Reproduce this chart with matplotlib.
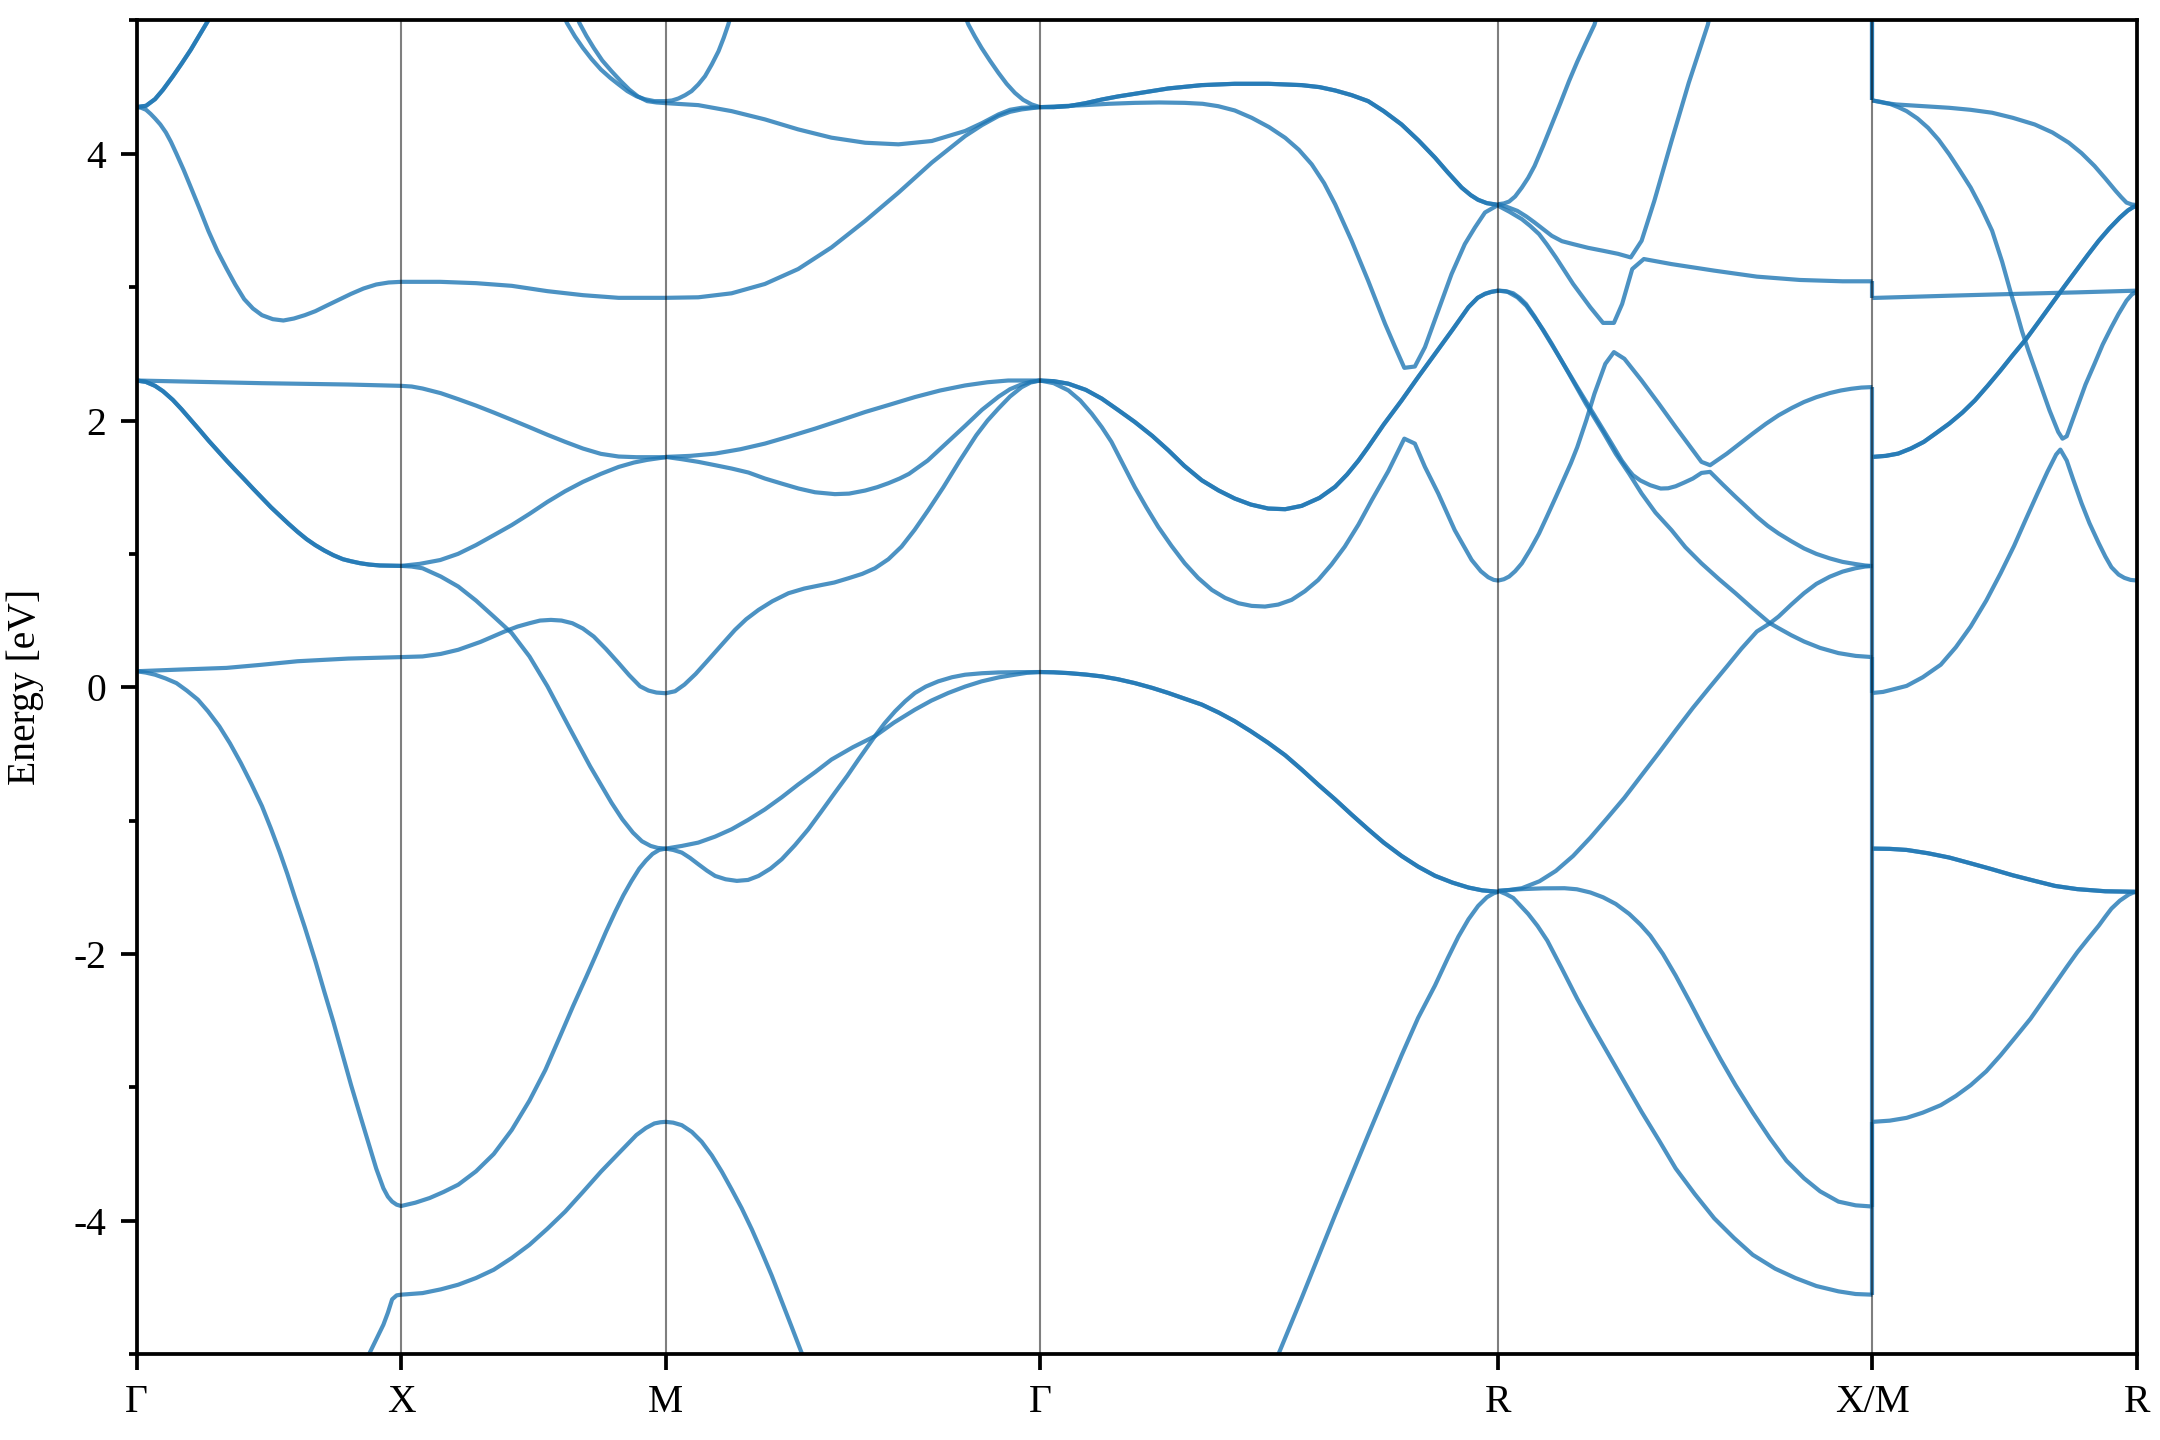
import matplotlib
matplotlib.use('Agg')
import matplotlib.pyplot as plt
from matplotlib.ticker import MultipleLocator
import numpy as np

plt.rcParams['font.family'] = ['Liberation Serif', 'DejaVu Serif']
plt.rcParams['font.size'] = 9.5
plt.rcParams['axes.unicode_minus'] = False

# path: segment lengths (units of 2pi/a) and node labels
SEG_LEN = [0.5, 0.5, np.sqrt(2) / 2, np.sqrt(3) / 2, np.sqrt(2) / 2, 0.5]
NODE_LABELS = ['Γ', 'X', 'M', 'Γ', 'R', 'X/M', 'R']

# curves: u = segment index + fraction along segment, E in eV
# --- Γ-X / X-M / M-Γ ---
A_u = [0, .036, .07, .10, .137, .17, .205, .235, .265, .30]
A_E = [4.35, 4.36, 4.41, 4.48, 4.58, 4.675, 4.78, 4.88, 4.98, 5.1]
B_u = [0, .018, .036, .053, .07, .09, .111, .13, .151, .178, .205, .238, .272, .306, .34, .373, .407,
       .44, .474, .515, .555, .595, .636, .676, .717, .764, .811, .858, .906, .953, 1,
       1.148, 1.283, 1.418, 1.553, 1.687, 1.822, 2,
       2.087, 2.176, 2.265, 2.354, 2.443, 2.533, 2.622, 2.711, 2.8, 2.845, 2.889, 2.92, 2.951, 3]
B_E = [4.35, 4.345, 4.33, 4.30, 4.265, 4.22, 4.16, 4.09, 4.0, 3.88, 3.75, 3.59, 3.42, 3.27, 3.14, 3.02,
       2.91, 2.84, 2.79, 2.76, 2.75, 2.765, 2.79, 2.82, 2.86, 2.905, 2.95, 2.99, 3.02, 3.035, 3.04,
       3.04, 3.03, 3.01, 2.97, 2.94, 2.92, 2.92,
       2.924, 2.954, 3.024, 3.136, 3.298, 3.497, 3.709, 3.934, 4.133, 4.215, 4.283, 4.315, 4.333, 4.35]
C_u = [0, .474, .8, 1, 1.04, 1.081, 1.15, 1.216, 1.283, 1.35, 1.418, 1.485, 1.553, 1.62, 1.687, 1.755,
       1.822, 1.889, 2]
C_E = [2.30, 2.28, 2.27, 2.26, 2.255, 2.24, 2.205, 2.16, 2.112, 2.06, 2.005, 1.95, 1.893, 1.84, 1.79,
       1.75, 1.73, 1.725, 1.725]
D_u = [0, .035, .07, .10, .137, .17, .205, .24, .272, .306, .34, .373, .407, .44, .474, .508, .54, .575,
       .609, .643, .676, .71, .744, .78, .81, .845, .879, .92, 1]
D_E = [2.30, 2.29, 2.26, 2.22, 2.155, 2.085, 2.005, 1.925, 1.85, 1.775, 1.70, 1.63, 1.56, 1.49, 1.42,
       1.35, 1.29, 1.225, 1.165, 1.11, 1.065, 1.025, 0.99, 0.96, 0.945, 0.93, 0.92, 0.913, 0.91]
E_u = [0, .17, .34, .47, .609, .80, 1, 1.081, 1.15, 1.216, 1.30, 1.391, 1.44, 1.485, 1.525, 1.566, 1.606,
       1.647, 1.687, 1.728, 1.775, 1.822, 1.862, 1.903, 1.935, 1.965, 2,
       2.025, 2.05, 2.08, 2.114, 2.15, 2.185, 2.215, 2.248, 2.285, 2.328, 2.37, 2.417, 2.45, 2.488,
       2.525, 2.559, 2.595, 2.63, 2.665, 2.702, 2.742, 2.786, 2.83, 2.86, 2.889, 2.92, 2.951, 2.975, 3]
E_E = [0.12, 0.133, 0.145, 0.168, 0.195, 0.215, 0.226, 0.231, 0.25, 0.281, 0.34, 0.418, 0.455, 0.48,
       0.50, 0.505, 0.50, 0.48, 0.44, 0.38, 0.285, 0.181, 0.09, 0.007, -0.025, -0.04, -0.045,
       -0.03, 0.02, 0.10, 0.206, 0.32, 0.43, 0.51, 0.58, 0.645, 0.705, 0.74, 0.767, 0.785, 0.817,
       0.85, 0.892, 0.96, 1.054, 1.18, 1.33, 1.50, 1.70, 1.89, 2.0, 2.09, 2.18, 2.25, 2.285, 2.30]
F_u = [0, .035, .07, .11, .151, .19, .232, .27, .313, .353, .394, .433, .474, .508, .542, .57, .596,
       .636, .677, .71, .744, .778, .811, .845, .879, .906, .933, .95, .966, .983, 1,
       1.054, 1.108, 1.16, 1.216, 1.283, 1.35, 1.418, 1.485, 1.545, 1.60, 1.65, 1.70, 1.74, 1.775,
       1.81, 1.84, 1.87, 1.90, 1.925, 1.95, 1.975, 2]
F_E = [0.12, 0.11, 0.094, 0.066, 0.031, -0.025, -0.093, -0.18, -0.293, -0.42, -0.567, -0.72, -0.891,
       -1.06, -1.24, -1.40, -1.56, -1.80, -2.06, -2.285, -2.51, -2.75, -2.984, -3.21, -3.433, -3.61,
       -3.757, -3.82, -3.857, -3.88, -3.89,
       -3.865, -3.83, -3.785, -3.73, -3.63, -3.50, -3.32, -3.10, -2.87, -2.62, -2.39, -2.17, -1.99,
       -1.83, -1.68, -1.56, -1.455, -1.36, -1.30, -1.25, -1.22, -1.21]
G_u = [.86, .879, .906, .933, .95, .966, .983, 1, 1.081, 1.15, 1.216, 1.283, 1.35, 1.418, 1.485, 1.553,
       1.62, 1.687, 1.755, 1.822, 1.889, 1.925, 1.957, 1.98, 2,
       2.02, 2.043, 2.07, 2.096, 2.123, 2.15, 2.176, 2.203, 2.23, 2.256, 2.283, 2.31, 2.337, 2.363, 2.38]
G_E = [-5.1, -5.0, -4.89, -4.78, -4.69, -4.59, -4.56, -4.555, -4.543, -4.515, -4.48, -4.43, -4.368,
       -4.28, -4.181, -4.06, -3.932, -3.785, -3.633, -3.495, -3.358, -3.305, -3.271, -3.262, -3.259,
       -3.265, -3.284, -3.335, -3.408, -3.51, -3.633, -3.765, -3.907, -4.065, -4.231, -4.41, -4.605,
       -4.80, -4.99, -5.1]
H_u = [1, 1.04, 1.081, 1.15, 1.216, 1.283, 1.35, 1.418, 1.485, 1.553, 1.633, 1.714, 1.795, 1.836,
       1.876, 1.91, 1.943, 1.97, 2]
H_E = [0.91, 0.905, 0.892, 0.83, 0.755, 0.65, 0.53, 0.406, 0.231, 0.007, -0.293, -0.592, -0.866,
       -0.99, -1.09, -1.155, -1.19, -1.205, -1.21]
I_u = [1, 1.07, 1.148, 1.215, 1.283, 1.35, 1.418, 1.485, 1.553, 1.62, 1.687, 1.755, 1.822, 1.88,
       1.93, 2]
I_E = [0.91, 0.925, 0.954, 1.0, 1.066, 1.14, 1.216, 1.30, 1.39, 1.47, 1.54, 1.60, 1.652, 1.685,
       1.705, 1.725]
J_u = [1.60, 1.627, 1.657, 1.687, 1.72, 1.755, 1.79, 1.822, 1.855, 1.889, 1.92, 1.957, 2,
       2.017, 2.034, 2.052, 2.069, 2.087, 2.105, 2.123, 2.141, 2.155, 2.167, 2.18]
J_E = [5.1, 4.98, 4.88, 4.794, 4.71, 4.632, 4.57, 4.52, 4.47, 4.432, 4.41, 4.395, 4.395,
       4.40, 4.415, 4.44, 4.47, 4.52, 4.582, 4.67, 4.769, 4.87, 4.968, 5.1]
K_u = [1.65, 1.674, 1.70, 1.728, 1.76, 1.795, 1.83, 1.862, 1.895, 1.93, 1.965, 2,
       2.087, 2.176, 2.265, 2.354, 2.443, 2.533, 2.622, 2.711, 2.8, 2.845, 2.889, 2.92, 2.951, 3]
K_E = [5.1, 4.98, 4.885, 4.794, 4.70, 4.62, 4.545, 4.482, 4.43, 4.395, 4.385, 4.38,
       4.365, 4.32, 4.258, 4.183, 4.121, 4.083, 4.071, 4.096, 4.171, 4.23, 4.295, 4.33, 4.345, 4.35]
N_u = [2.79, 2.809, 2.826, 2.844, 2.866, 2.889, 2.911, 2.933, 2.955, 2.978, 3]
N_E = [5.1, 4.968, 4.88, 4.794, 4.70, 4.607, 4.525, 4.457, 4.405, 4.37, 4.35]
P_u = [2, 2.066, 2.132, 2.2, 2.265, 2.33, 2.399, 2.465, 2.533, 2.6, 2.666, 2.733, 2.8, 2.86, 2.915, 3]
P_E = [1.727, 1.735, 1.752, 1.785, 1.827, 1.88, 1.939, 2.0, 2.064, 2.12, 2.176, 2.225, 2.263, 2.287,
       2.30, 2.30]
Q_u = [2, 2.043, 2.087, 2.132, 2.176, 2.221, 2.265, 2.31, 2.355, 2.399, 2.452, 2.49, 2.533, 2.565,
       2.595, 2.625, 2.65, 2.70, 2.75, 2.80, 2.845, 2.89, 2.92, 2.95, 2.975, 3]
Q_E = [1.727, 1.71, 1.69, 1.665, 1.64, 1.61, 1.565, 1.527, 1.49, 1.462, 1.448, 1.452, 1.475, 1.50,
       1.53, 1.565, 1.60, 1.70, 1.83, 1.96, 2.08, 2.18, 2.235, 2.27, 2.29, 2.30]
S_u = [2, 2.02, 2.043, 2.065, 2.087, 2.11, 2.132, 2.16, 2.19, 2.22, 2.248, 2.28, 2.31, 2.345, 2.381,
       2.415, 2.452, 2.485, 2.515, 2.559, 2.585, 2.613, 2.64, 2.666, 2.695, 2.728, 2.765, 2.8, 2.845,
       2.889, 2.94, 3]
S_E = [-1.21, -1.22, -1.24, -1.28, -1.327, -1.375, -1.415, -1.44, -1.452, -1.445, -1.415, -1.36,
       -1.29, -1.185, -1.065, -0.935, -0.791, -0.665, -0.542, -0.367, -0.27, -0.18, -0.105, -0.043,
       0.005, 0.044, 0.075, 0.094, 0.105, 0.111, 0.113, 0.114]
T_u = [2, 2.043, 2.087, 2.132, 2.176, 2.22, 2.265, 2.31, 2.354, 2.4, 2.443, 2.5, 2.559, 2.61, 2.666,
       2.71, 2.755, 2.80, 2.844, 2.89, 2.933, 2.965, 3]
T_E = [-1.21, -1.19, -1.165, -1.12, -1.065, -0.995, -0.916, -0.825, -0.729, -0.635, -0.542, -0.45,
       -0.367, -0.265, -0.168, -0.10, -0.043, 0.005, 0.044, 0.074, 0.094, 0.108, 0.114]
# --- Γ-R ---
V_u = [3, 3.03, 3.062, 3.1, 3.135, 3.17, 3.207, 3.28, 3.353, 3.425, 3.498, 3.571, 3.61, 3.644, 3.68,
       3.716, 3.75, 3.789, 3.826, 3.862, 3.89, 3.92, 3.94, 3.956, 3.975, 4]
V_E = [4.35, 4.35, 4.357, 4.38, 4.407, 4.43, 4.45, 4.49, 4.515, 4.525, 4.525, 4.515, 4.50, 4.475,
       4.44, 4.395, 4.32, 4.22, 4.10, 3.971, 3.86, 3.747, 3.69, 3.655, 3.63, 3.617]
W_u = [3, 3.05, 3.098, 3.15, 3.207, 3.26, 3.316, 3.355, 3.389, 3.425, 3.462, 3.50, 3.535, 3.565, 3.593,
       3.62, 3.644, 3.68, 3.716, 3.753, 3.775, 3.795, 3.818, 3.84, 3.869, 3.898, 3.927, 3.949, 3.971, 4]
W_E = [4.35, 4.358, 4.365, 4.375, 4.382, 4.385, 4.382, 4.375, 4.357, 4.325, 4.27, 4.20, 4.12, 4.03,
       3.921, 3.78, 3.622, 3.348, 3.049, 2.725, 2.55, 2.395, 2.405, 2.55, 2.824, 3.098, 3.323, 3.447,
       3.56, 3.617]
X_u = [3, 3.03, 3.062, 3.10, 3.135, 3.17, 3.207, 3.245, 3.28, 3.315, 3.353, 3.39, 3.425, 3.46, 3.498,
       3.535, 3.571, 3.61, 3.644, 3.67, 3.695, 3.716, 3.75, 3.789, 3.825, 3.862, 3.90, 3.935, 3.955,
       3.971, 3.985, 4]
X_E = [2.30, 2.295, 2.276, 2.23, 2.164, 2.08, 1.989, 1.885, 1.777, 1.66, 1.552, 1.475, 1.415, 1.37,
       1.34, 1.335, 1.36, 1.42, 1.503, 1.595, 1.70, 1.80, 1.97, 2.15, 2.325, 2.50, 2.68, 2.85, 2.92,
       2.95, 2.965, 2.974]
Y_u = [3, 3.03, 3.062, 3.088, 3.113, 3.135, 3.156, 3.18, 3.207, 3.232, 3.258, 3.287, 3.316, 3.345,
       3.375, 3.404, 3.433, 3.462, 3.491, 3.52, 3.549, 3.578, 3.607, 3.636, 3.665, 3.695, 3.724, 3.76,
       3.795, 3.818, 3.84, 3.869, 3.905, 3.942, 3.962, 3.978, 3.99, 4,
       4.015, 4.029, 4.045, 4.063, 4.085, 4.109, 4.13, 4.154, 4.175, 4.194, 4.211, 4.235, 4.257,
       4.286, 4.309, 4.337, 4.383, 4.429, 4.474, 4.52, 4.543, 4.566, 4.611, 4.68, 4.715, 4.749,
       4.785, 4.817, 4.85, 4.886, 4.915, 4.943, 4.97, 5]
Y_E = [2.30, 2.28, 2.226, 2.15, 2.051, 1.95, 1.84, 1.68, 1.50, 1.35, 1.203, 1.06, 0.929, 0.82, 0.73,
       0.67, 0.63, 0.61, 0.605, 0.62, 0.655, 0.72, 0.804, 0.92, 1.054, 1.22, 1.403, 1.62, 1.864,
       1.827, 1.652, 1.453, 1.178, 0.954, 0.87, 0.825, 0.805, 0.80,
       0.81, 0.83, 0.87, 0.929, 1.03, 1.153, 1.28, 1.428, 1.56, 1.68, 1.80, 2.0, 2.201,
       2.425, 2.513, 2.463, 2.30, 2.126, 1.951, 1.777, 1.69, 1.665, 1.752, 1.902, 1.975, 2.039,
       2.095, 2.139, 2.175, 2.206, 2.225, 2.238, 2.247, 2.251]
Z_u = [3, 3.03, 3.062, 3.1, 3.135, 3.17, 3.207, 3.245, 3.28, 3.315, 3.353, 3.39, 3.425, 3.46, 3.498,
       3.535, 3.571, 3.607, 3.644, 3.68, 3.716, 3.75, 3.789, 3.825, 3.862, 3.9, 3.935, 3.965, 4]
Z_E = [0.114, 0.112, 0.106, 0.095, 0.081, 0.06, 0.031, -0.005, -0.043, -0.085, -0.13, -0.19, -0.255,
       -0.33, -0.417, -0.51, -0.617, -0.73, -0.841, -0.955, -1.065, -1.165, -1.265, -1.345, -1.414,
       -1.465, -1.502, -1.523, -1.534]
AA_u = [3.50, 3.52, 3.571, 3.644, 3.716, 3.789, 3.825, 3.862, 3.89, 3.913, 3.935, 3.956, 3.975, 3.99, 4]
AA_E = [-5.1, -5.004, -4.58, -3.957, -3.358, -2.76, -2.48, -2.236, -2.03, -1.87, -1.74, -1.64,
        -1.575, -1.545, -1.534]
# --- R-X ---
AB_u = [4, 4.015, 4.029, 4.045, 4.063, 4.08, 4.097, 4.12, 4.143, 4.166, 4.189, 4.211, 4.234, 4.257, 4.27]
AB_E = [3.622, 3.628, 3.642, 3.68, 3.747, 3.82, 3.909, 4.06, 4.22, 4.38, 4.545, 4.69, 4.831, 4.968, 5.1]
AC_u = [4, 4.025, 4.051, 4.075, 4.097, 4.12, 4.143, 4.17, 4.2, 4.24, 4.28, 4.32, 4.354, 4.383, 4.417,
        4.463, 4.509, 4.56, 4.57]
AC_E = [3.622, 3.60, 3.572, 3.53, 3.485, 3.435, 3.385, 3.345, 3.323, 3.295, 3.273, 3.25, 3.223, 3.348,
        3.647, 4.096, 4.532, 4.968, 5.1]
AD_u = [4, 4.03, 4.063, 4.085, 4.109, 4.13, 4.154, 4.2, 4.246, 4.28, 4.309, 4.331, 4.358, 4.389, 4.463,
        4.577, 4.691, 4.806, 4.92, 5]
AD_E = [3.61, 3.565, 3.51, 3.46, 3.398, 3.32, 3.223, 3.024, 2.849, 2.732, 2.732, 2.874, 3.136, 3.211,
        3.173, 3.124, 3.079, 3.054, 3.044, 3.044]
AE_u = [4, 4.02, 4.04, 4.057, 4.074, 4.097, 4.12, 4.166, 4.211, 4.257, 4.303, 4.33, 4.349, 4.36, 4.38,
        4.406, 4.434, 4.454, 4.474, 4.497, 4.52, 4.543, 4.566, 4.60, 4.634, 4.66, 4.691, 4.72, 4.749,
        4.783, 4.817, 4.85, 4.886, 4.92, 4.954, 4.98, 5]
AE_E = [2.974, 2.97, 2.954, 2.92, 2.874, 2.78, 2.675, 2.463, 2.251, 2.039, 1.827, 1.70, 1.627, 1.59,
        1.55, 1.515, 1.49, 1.492, 1.507, 1.535, 1.565, 1.607, 1.615, 1.52, 1.428, 1.36, 1.278, 1.21,
        1.153, 1.095, 1.041, 1.0, 0.966, 0.94, 0.924, 0.913, 0.909]
AF_u = [4, 4.025, 4.051, 4.075, 4.097, 4.12, 4.143, 4.189, 4.234, 4.28, 4.314, 4.35, 4.383, 4.42, 4.463,
        4.50, 4.543, 4.59, 4.634, 4.68, 4.726, 4.749, 4.783, 4.817, 4.86, 4.909, 4.955, 5]
AF_E = [2.974, 2.965, 2.924, 2.86, 2.774, 2.68, 2.575, 2.35, 2.126, 1.914, 1.75, 1.60, 1.453, 1.31,
        1.178, 1.05, 0.929, 0.81, 0.705, 0.59, 0.48, 0.443, 0.39, 0.343, 0.295, 0.256, 0.235, 0.226]
AH_u = [4, 4.03, 4.063, 4.11, 4.154, 4.2, 4.246, 4.29, 4.337, 4.383, 4.429, 4.475, 4.52, 4.565, 4.611,
        4.65, 4.691, 4.726, 4.749, 4.783, 4.817, 4.85, 4.886, 4.92, 4.954, 4.98, 5]
AH_E = [-1.527, -1.52, -1.507, -1.455, -1.377, -1.265, -1.128, -0.985, -0.829, -0.66, -0.492, -0.32,
        -0.155, 0.0, 0.156, 0.29, 0.418, 0.48, 0.53, 0.62, 0.705, 0.775, 0.829, 0.867, 0.892, 0.905,
        0.909]
AI_u = [4, 4.063, 4.12, 4.177, 4.21, 4.246, 4.28, 4.314, 4.35, 4.38, 4.406, 4.44, 4.474, 4.514, 4.554,
        4.594, 4.634, 4.68, 4.726, 4.77, 4.817, 4.86, 4.909, 4.955, 5]
AI_E = [-1.527, -1.514, -1.508, -1.507, -1.515, -1.539, -1.575, -1.625, -1.70, -1.78, -1.862, -2.0,
        -2.162, -2.37, -2.585, -2.79, -2.984, -3.19, -3.383, -3.55, -3.682, -3.78, -3.857, -3.885,
        -3.894]
AJ_u = [4, 4.02, 4.04, 4.06, 4.08, 4.105, 4.131, 4.17, 4.211, 4.25, 4.291, 4.337, 4.383, 4.43, 4.474,
        4.525, 4.577, 4.63, 4.68, 4.74, 4.794, 4.85, 4.909, 4.955, 5]
AJ_E = [-1.527, -1.55, -1.58, -1.64, -1.70, -1.79, -1.90, -2.11, -2.336, -2.535, -2.735, -2.96, -3.184,
        -3.40, -3.608, -3.80, -3.982, -4.13, -4.256, -4.36, -4.43, -4.49, -4.53, -4.55, -4.555]
# --- M-R ---
AK_u = [5, 5.025, 5.05, 5.09, 5.129, 5.21, 5.29, 5.37, 5.452, 5.53, 5.613, 5.68, 5.742, 5.79, 5.839,
        5.88, 5.919, 5.94, 5.96, 5.98, 6]
AK_E = [4.40, 4.39, 4.38, 4.37, 4.365, 4.355, 4.345, 4.33, 4.308, 4.27, 4.22, 4.16, 4.083, 4.005,
        3.909, 3.815, 3.722, 3.675, 3.634, 3.62, 3.615]
AL_u = [5, 5.03, 5.065, 5.097, 5.129, 5.17, 5.21, 5.25, 5.29, 5.33, 5.371, 5.41, 5.452, 5.49, 5.524,
        5.545, 5.565, 5.589, 5.629, 5.669, 5.702, 5.718, 5.734, 5.774, 5.805, 5.839, 5.87, 5.903, 5.93,
        5.96, 5.98, 6]
AL_E = [4.40, 4.39, 4.375, 4.35, 4.32, 4.265, 4.195, 4.105, 3.996, 3.875, 3.747, 3.60, 3.423, 3.19,
        2.949, 2.81, 2.67, 2.525, 2.30, 2.076, 1.914, 1.864, 1.882, 2.101, 2.27, 2.425, 2.57, 2.70,
        2.80, 2.899, 2.945, 2.969]
AM_u = [5, 5.29, 5.532, 5.774, 6]
AM_E = [2.919, 2.936, 2.949, 2.961, 2.974]
AN_u = [5, 5.05, 5.097, 5.145, 5.194, 5.24, 5.29, 5.34, 5.387, 5.435, 5.484, 5.53, 5.581, 5.63, 5.677,
        5.725, 5.774, 5.815, 5.855, 5.895, 5.935, 5.965, 5.985, 6]
AN_E = [1.727, 1.735, 1.752, 1.79, 1.84, 1.905, 1.977, 2.06, 2.151, 2.26, 2.376, 2.49, 2.612, 2.745,
        2.874, 3.005, 3.136, 3.245, 3.348, 3.44, 3.522, 3.575, 3.60, 3.61]
AO_u = [5, 5.04, 5.08, 5.129, 5.19, 5.258, 5.315, 5.371, 5.43, 5.484, 5.535, 5.581, 5.625, 5.661,
        5.694, 5.71, 5.734, 5.758, 5.79, 5.82, 5.855, 5.88, 5.903, 5.93, 5.952, 5.975, 6]
AO_E = [-0.043, -0.035, -0.015, 0.01, 0.075, 0.169, 0.30, 0.455, 0.65, 0.854, 1.06, 1.266, 1.46,
        1.615, 1.745, 1.782, 1.70, 1.56, 1.38, 1.23, 1.08, 0.98, 0.90, 0.845, 0.82, 0.805, 0.80]
AP_u = [5, 5.065, 5.129, 5.21, 5.29, 5.37, 5.452, 5.53, 5.613, 5.69, 5.774, 5.88, 6]
AP_E = [-1.21, -1.212, -1.22, -1.245, -1.277, -1.32, -1.365, -1.41, -1.452, -1.49, -1.514, -1.53,
        -1.534]
AQ_u = [5, 5.065, 5.129, 5.19, 5.258, 5.315, 5.371, 5.43, 5.484, 5.54, 5.597, 5.645, 5.694, 5.735,
        5.774, 5.815, 5.855, 5.88, 5.903, 5.935, 5.968, 5.985, 6]
AQ_E = [-3.259, -3.25, -3.229, -3.19, -3.134, -3.065, -2.984, -2.88, -2.76, -2.625, -2.486, -2.35,
        -2.212, -2.095, -1.987, -1.885, -1.788, -1.72, -1.66, -1.60, -1.555, -1.54, -1.534]

# band energies either side of the X|M break (same band index)
JUMP_X = [5.2, 5.2, 3.044, 2.251, 0.909, 0.909, 0.226, -3.894, -4.555]
JUMP_M = [4.40, 4.40, 2.919, 1.727, 1.727, -0.043, -1.21, -1.21, -3.259]

# (u, E, degeneracy)
CURVES = [(A_u, A_E, 2), (B_u, B_E, 1), (C_u, C_E, 1), (D_u, D_E, 2), (E_u, E_E, 1),
          (F_u, F_E, 1), (G_u, G_E, 1), (H_u, H_E, 1), (I_u, I_E, 1), (J_u, J_E, 1),
          (K_u, K_E, 1), (N_u, N_E, 1), (P_u, P_E, 1), (Q_u, Q_E, 1), (S_u, S_E, 1),
          (T_u, T_E, 1), (V_u, V_E, 2), (W_u, W_E, 1), (X_u, X_E, 2), (Y_u, Y_E, 1),
          (Z_u, Z_E, 2), (AA_u, AA_E, 1), (AB_u, AB_E, 1), (AC_u, AC_E, 1), (AD_u, AD_E, 1),
          (AE_u, AE_E, 1), (AF_u, AF_E, 1), (AH_u, AH_E, 1), (AI_u, AI_E, 1), (AJ_u, AJ_E, 1),
          (AK_u, AK_E, 1), (AL_u, AL_E, 1), (AM_u, AM_E, 1), (AN_u, AN_E, 2), (AO_u, AO_E, 1),
          (AP_u, AP_E, 2), (AQ_u, AQ_E, 1)]


def main():
    nodes = np.concatenate([[0], np.cumsum(SEG_LEN)])
    to_k = lambda u: np.interp(u, np.arange(len(nodes)), nodes)

    fig = plt.figure(figsize=(7.2, 4.8), dpi=300)
    ax = fig.add_axes([0.0632, 0.0597, 0.9262, 0.9261])

    line_kw = dict(color='#1f77b4', alpha=0.8, lw=1.0, solid_capstyle='butt')
    for u, e, n in CURVES:
        for _ in range(n):
            ax.plot(to_k(u), e, **line_kw)
    kxm = nodes[5]
    for ex, em in zip(JUMP_X, JUMP_M):
        ax.plot([kxm, kxm], [ex, em], **line_kw)

    for k in nodes[1:-1]:
        ax.axvline(k, color='k', alpha=0.5, lw=0.5, zorder=3)

    ax.set_xlim(nodes[0], nodes[-1])
    ax.set_ylim(-5, 5)
    ax.set_xticks(nodes)
    ax.set_xticklabels(NODE_LABELS)
    ax.yaxis.set_major_locator(MultipleLocator(2))
    ax.yaxis.set_minor_locator(MultipleLocator(1))
    ax.tick_params(which='major', length=3.8, width=0.9)
    ax.tick_params(which='minor', length=2.0, width=0.9)
    for s in ax.spines.values():
        s.set_linewidth(0.9)
    ax.set_ylabel('Energy [eV]', labelpad=7)

    fig.savefig('out.png', dpi=300)
    plt.close(fig)


if __name__ == '__main__':
    main()
